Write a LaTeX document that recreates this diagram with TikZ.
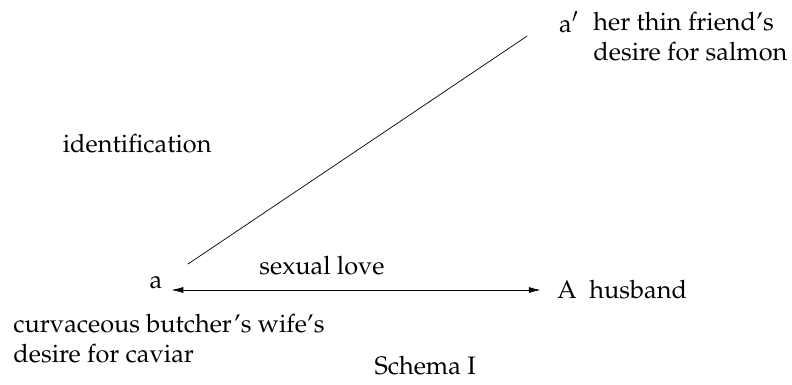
\documentclass[tikz,border=0pt]{standalone}
\usepackage[T1]{fontenc}
\usepackage{mathpazo}
\usetikzlibrary{arrows.meta,calc,positioning}

\begin{document}
\begin{tikzpicture}[font=\fontsize{18}{21.3}\selectfont, lbl/.style={inner sep=0pt, align=left}]
\useasboundingbox (0,0) rectangle (19.8,9.6);
\node (a) at (3.9, 2.55) {a};
\node[anchor=west, inner sep=0pt] (A) at (13.92, 2.35) {A\enspace husband};
\node[lbl, anchor=west] (wife) at (0.33, 1.14) {curvaceous butcher's wife's\\desire for caviar};
\node (ap) at (14.22, 9.05) {a$^{\prime}$};
\node[lbl, anchor=west] (friend) at (14.83, 8.68) {her thin friend's\\desire for salmon};
\node (ident) at (3.43, 6.02) {identification};
\node (love) at (8.05, 2.95) {sexual love};
\node[inner sep=0pt] (schema) at (10.63, 0.46) {Schema I};
\coordinate (p) at (4.7, 3.0);
\coordinate (q) at (13.18, 8.7);
\draw[line width=0.5pt] (p) -- (q);
\draw[line width=0.5pt, {Latex[length=3mm,width=1.5mm]}-{Latex[length=3mm,width=1.5mm]}] ($(a.east |- A.west)+(0.1,0)$) -- ($(A.west)+(-0.4,0)$);
\end{tikzpicture}
\end{document}
